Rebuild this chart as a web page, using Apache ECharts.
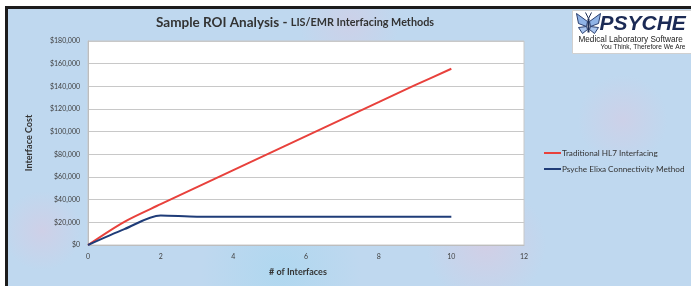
<!DOCTYPE html>
<html>
<head>
<meta charset="utf-8">
<script src="https://cdn.jsdelivr.net/npm/echarts@6/dist/echarts.min.js"></script>
<style>
  html, body { margin: 0; padding: 0; background: #fff; }
  .wrap { position: relative; width: 691px; height: 286px; overflow: hidden; }
  .frame {
    position: absolute; left: 5px; top: 6px; right: 0; bottom: 0;
    border-top: 3px solid #1c1c1c; border-left: 3px solid #1c1c1c;
    background-color: #bfd8ef;
    background-image:
      radial-gradient(circle at 20% 30%, rgba(232, 195, 218, 0.5) 0, rgba(232, 195, 218, 0) 50px),
      radial-gradient(circle at 70% 85%, rgba(232, 195, 218, 0.45) 0, rgba(232, 195, 218, 0) 60px),
      radial-gradient(circle at 90% 40%, rgba(225, 198, 222, 0.4) 0, rgba(225, 198, 222, 0) 45px),
      radial-gradient(circle at 40% 95%, rgba(165, 215, 240, 0.6) 0, rgba(165, 215, 240, 0) 80px),
      radial-gradient(circle at 5% 80%, rgba(225, 198, 222, 0.45) 0, rgba(225, 198, 222, 0) 40px),
      radial-gradient(circle at 50% 5%, rgba(225, 198, 222, 0.4) 0, rgba(225, 198, 222, 0) 50px);
  }
  #chart { position: absolute; left: 0; top: 0; width: 691px; height: 286px; }
</style>
</head>
<body>
<div class="wrap">
  <div class="frame"></div>
  <div id="chart"></div>
</div>
<script>
// 数据
const interfaces = [0, 1, 2, 3, 4, 5, 6, 7, 8, 9, 10]
const traditionalHL7 = [0, 20500, 36000, 51000, 66000, 81000, 96000, 111000, 126000, 141000, 155500]
const psycheElixa = [0, 14000, 26000, 25000, 25000, 25000, 25000, 25000, 25000, 25000, 25000]
const seriesNames = ['Traditional HL7 Interfacing', 'Psyche Elixa Connectivity Method']

const pairs = (ys) => interfaces.map((x, i) => [x, ys[i]])
const labelColor = '#404040'

let myChart = echarts.init(document.getElementById('chart'))
let option = {
  backgroundColor: 'transparent',
  animation: false,
  textStyle: { fontFamily: 'Lato' },
  grid: {
    show: true,
    left: 88,
    right: 167,
    top: 41,
    bottom: 41,
    backgroundColor: '#ffffff',
    borderColor: '#c8c8c8',
    borderWidth: 1
  },
  legend: {
    orient: 'vertical',
    left: 539,
    top: 144,
    itemGap: 8,
    itemWidth: 17,
    itemHeight: 2,
    icon: 'rect',
    textStyle: { fontSize: 8.2, color: '#333', padding: [0, 0, 0, -4] },
    data: seriesNames
  },
  xAxis: {
    type: 'value',
    min: 0,
    max: 12,
    interval: 2,
    name: '# of Interfaces',
    nameLocation: 'middle',
    nameGap: 23,
    nameTextStyle: { fontSize: 9, fontWeight: 'bold', color: '#333', padding: [0, 16, 0, 0] },
    axisLine: { lineStyle: { color: '#bdbdbd' } },
    axisTick: { show: false },
    axisLabel: { fontSize: 7, color: labelColor, margin: 8 },
    splitLine: { show: false }
  },
  yAxis: {
    type: 'value',
    min: 0,
    max: 180000,
    interval: 20000,
    name: 'Interface Cost',
    nameLocation: 'middle',
    nameGap: 54,
    nameTextStyle: { fontSize: 9, fontWeight: 'bold', color: '#333' },
    axisLine: { show: true, lineStyle: { color: '#bdbdbd' } },
    axisTick: { show: false },
    axisLabel: {
      fontSize: 7,
      color: labelColor,
      margin: 8,
      formatter: (v) => '$' + v.toLocaleString('en-US')
    },
    splitLine: { lineStyle: { color: '#c8c8c8' } }
  },
  series: [
    {
      name: seriesNames[0],
      type: 'line',
      smooth: 0.3,
      showSymbol: false,
      data: pairs(traditionalHL7),
      itemStyle: { color: '#e8413c' },
      lineStyle: { width: 2, color: '#e8413c' }
    },
    {
      name: seriesNames[1],
      type: 'line',
      smooth: 0.3,
      showSymbol: false,
      data: pairs(psycheElixa),
      itemStyle: { color: '#1f3c78' },
      lineStyle: { width: 2, color: '#1f3c78' }
    }
  ],
  graphic: [
    // 标题
    {
      type: 'text',
      left: 156,
      top: 16,
      style: {
        rich: {
          a: { fontSize: 13.5, fontWeight: 'bold', fill: '#333', fontFamily: 'Lato' },
          b: { fontSize: 10.8, fontWeight: 'bold', fill: '#333', fontFamily: 'Lato' }
        },
        text: '{a|Sample ROI Analysis - }{b|LIS/EMR Interfacing Methods}'
      }
    },
    // logo
    {
      type: 'group',
      left: 572,
      top: 10,
      children: [
        { type: 'rect', shape: { x: 0, y: 0, width: 125, height: 43 }, style: { fill: '#ffffff', stroke: '#d0d0d0' } },
        { type: 'polygon', shape: { points: [[15, 11], [4, 3], [6, 13], [14, 16]] }, style: { fill: '#8fb3e6', stroke: '#2a3f70', lineWidth: 1 } },
        { type: 'polygon', shape: { points: [[17, 11], [28, 3], [26, 13], [18, 16]] }, style: { fill: '#8fb3e6', stroke: '#2a3f70', lineWidth: 1 } },
        { type: 'polygon', shape: { points: [[14, 16], [6, 17], [10, 23], [15, 19]] }, style: { fill: '#a9c5ee', stroke: '#2a3f70', lineWidth: 1 } },
        { type: 'polygon', shape: { points: [[18, 16], [26, 17], [22, 23], [17, 19]] }, style: { fill: '#a9c5ee', stroke: '#2a3f70', lineWidth: 1 } },
        { type: 'line', shape: { x1: 16, y1: 8, x2: 16, y2: 22 }, style: { stroke: '#1f2f55', lineWidth: 2 } },
        { type: 'line', shape: { x1: 16, y1: 8, x2: 13, y2: 2 }, style: { stroke: '#1f2f55', lineWidth: 1 } },
        { type: 'line', shape: { x1: 16, y1: 8, x2: 19, y2: 2 }, style: { stroke: '#1f2f55', lineWidth: 1 } },
        { type: 'text', x: 27, y: 3, style: { text: 'PSYCHE', fontSize: 21, fontWeight: 'bold', fontStyle: 'italic', fill: '#1b2a55', fontFamily: 'Liberation Sans' } },
        { type: 'text', x: 6, y: 25, style: { text: 'Medical Laboratory Software', fontSize: 8.2, fill: '#222', fontFamily: 'Liberation Sans' } },
        { type: 'text', x: 28, y: 33, style: { text: 'You Think, Therefore We Are', fontSize: 6.6, fill: '#222', fontFamily: 'Liberation Sans' } }
      ]
    }
  ]
}
myChart.setOption(option)
</script>
</body>
</html>
